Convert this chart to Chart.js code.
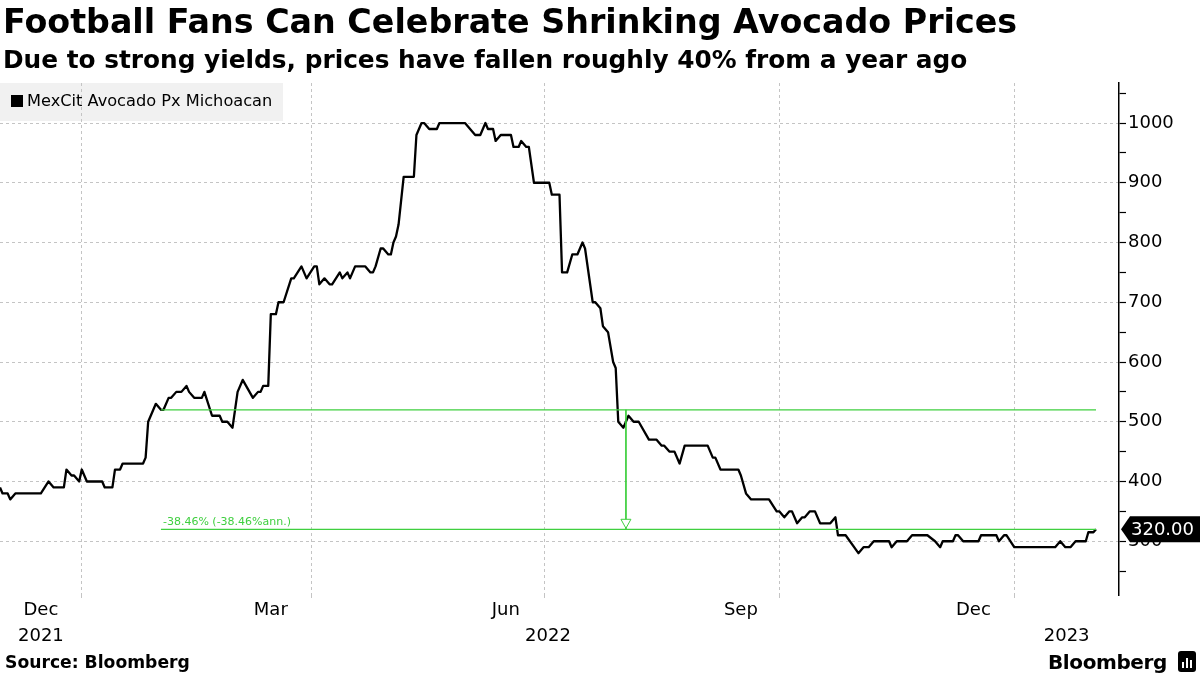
<!DOCTYPE html>
<html>
<head>
<meta charset="utf-8">
<script src="https://cdn.jsdelivr.net/npm/chart.js@4.4.1/dist/chart.umd.min.js"></script>
<style>
  html, body { margin:0; padding:0; background:#fff; width:1200px; height:675px; overflow:hidden; }
  body { font-family: 'DejaVu Sans', sans-serif; color:#000; }
  #wrap { position:relative; width:1200px; height:675px; }
  #legend { position:absolute; left:0; top:83px; width:283px; height:38px; background:#f1f1f1; z-index:0; }
  #chart { position:absolute; left:0; top:0; z-index:1; }
  .txt { position:absolute; z-index:2; white-space:nowrap; }
  #title { left:3px; top:2px; font-size:33.3px; font-weight:bold; line-height:40px; }
  #subtitle { left:3px; top:44px; font-size:24.8px; font-weight:bold; line-height:32px; }
  #legtxt { left:11px; top:89px; font-size:16.2px; line-height:24px; z-index:2; }
  #legtxt span { display:inline-block; width:12px; height:12px; background:#000; margin-right:4px; vertical-align:-1px; }
  #source { left:5px; top:650px; font-size:17.2px; font-weight:bold; line-height:24px; }
  #brand { left:1048px; top:648px; font-size:20px; font-weight:bold; line-height:28px; letter-spacing:-0.4px; }
  #icon { position:absolute; left:1178px; top:651px; width:18px; height:21px; background:#000; border-radius:3px; z-index:2; }
  #icon i { position:absolute; bottom:4px; width:2px; background:#fff; }
</style>
</head>
<body>
<div id="wrap">
  <div id="legend"></div>
  <canvas id="chart" width="1200" height="675"></canvas>
  <div class="txt" id="title">Football Fans Can Celebrate Shrinking Avocado Prices</div>
  <div class="txt" id="subtitle">Due to strong yields, prices have fallen roughly 40% from a year ago</div>
  <div class="txt" id="legtxt"><span></span>MexCit Avocado Px Michoacan</div>
  <div class="txt" id="source">Source: Bloomberg</div>
  <div class="txt" id="brand">Bloomberg</div>
  <div id="icon"><i style="left:4px;height:6px"></i><i style="left:8px;height:10px"></i><i style="left:12px;height:8px"></i></div>
</div>
<script>
// ---------------- DATA ----------------
const seriesName = 'MexCit Avocado Px Michoacan';
const dates = [
 '2021-11-30','2021-12-01','2021-12-03','2021-12-04','2021-12-06','2021-12-16','2021-12-19','2021-12-21','2021-12-25','2021-12-26',
 '2021-12-28','2021-12-29','2021-12-31','2022-01-01','2022-01-03','2022-01-09','2022-01-10','2022-01-13','2022-01-14','2022-01-16',
 '2022-01-17','2022-01-25','2022-01-26','2022-01-27','2022-01-29','2022-01-30','2022-02-01','2022-02-02','2022-02-04','2022-02-05',
 '2022-02-07','2022-02-09','2022-02-11','2022-02-12','2022-02-14','2022-02-17','2022-02-18','2022-02-21','2022-02-24','2022-02-25',
 '2022-02-27','2022-03-01','2022-03-02','2022-03-03','2022-03-05','2022-03-09','2022-03-11','2022-03-12','2022-03-13','2022-03-15',
 '2022-03-16','2022-03-18','2022-03-19','2022-03-21','2022-03-24','2022-03-25','2022-03-28','2022-03-30','2022-04-02','2022-04-03',
 '2022-04-04','2022-04-06','2022-04-08','2022-04-09','2022-04-12','2022-04-13','2022-04-15','2022-04-16','2022-04-18','2022-04-22',
 '2022-04-24','2022-04-25','2022-04-26','2022-04-28','2022-04-29','2022-05-01','2022-05-02','2022-05-03','2022-05-04','2022-05-05',
 '2022-05-07','2022-05-11','2022-05-12','2022-05-14','2022-05-15','2022-05-17','2022-05-20','2022-05-21','2022-05-31','2022-06-04',
 '2022-06-06','2022-06-08','2022-06-09','2022-06-11','2022-06-12','2022-06-14','2022-06-18','2022-06-19','2022-06-21','2022-06-22',
 '2022-06-24','2022-06-25','2022-06-27','2022-07-03','2022-07-04','2022-07-07','2022-07-08','2022-07-10','2022-07-12','2022-07-14',
 '2022-07-16','2022-07-17','2022-07-20','2022-07-21','2022-07-23','2022-07-24','2022-07-26','2022-07-28','2022-07-29','2022-07-30',
 '2022-08-01','2022-08-03','2022-08-05','2022-08-07','2022-08-11','2022-08-14','2022-08-16','2022-08-17','2022-08-19','2022-08-21',
 '2022-08-23','2022-08-25','2022-09-03','2022-09-05','2022-09-06','2022-09-08','2022-09-15','2022-09-16','2022-09-18','2022-09-20',
 '2022-09-27','2022-09-30','2022-10-01','2022-10-03','2022-10-05','2022-10-06','2022-10-08','2022-10-10','2022-10-11','2022-10-13',
 '2022-10-15','2022-10-17','2022-10-21','2022-10-23','2022-10-24','2022-10-27','2022-11-01','2022-11-03','2022-11-05','2022-11-07',
 '2022-11-13','2022-11-14','2022-11-16','2022-11-20','2022-11-22','2022-11-28','2022-12-01','2022-12-03','2022-12-04','2022-12-08',
 '2022-12-09','2022-12-10','2022-12-12','2022-12-18','2022-12-19','2022-12-25','2022-12-26','2022-12-28','2022-12-29','2023-01-01',
 '2023-01-17','2023-01-19','2023-01-21','2023-01-23','2023-01-25','2023-01-29','2023-01-30','2023-02-01','2023-02-02'
];
const prices = [
 390,380,380,370,380,380,400,390,390,420,
 410,410,400,420,400,400,390,390,420,420,
 430,430,440,500,520,530,520,520,540,540,
 550,550,560,550,540,540,550,510,510,500,
 500,490,520,550,570,540,550,550,560,560,
 680,680,700,700,740,740,760,740,760,760,
 730,740,730,730,750,740,750,740,760,760,
 750,750,760,790,790,780,780,800,810,830,
 910,910,980,1000,1000,990,990,1000,1000,980,
 980,1000,990,990,970,980,980,960,960,970,
 960,960,900,900,880,880,750,750,780,780,
 800,790,700,700,690,660,650,600,590,500,
 490,510,500,500,470,470,460,460,450,450,
 430,460,460,440,440,420,420,410,380,370,
 370,350,350,340,350,350,330,340,340,350,
 350,330,330,340,310,310,280,290,290,300,
 300,290,300,300,310,310,300,290,300,300,
 310,310,300,300,310,310,300,310,310,290,
 290,300,290,290,300,300,315,315,320
];
// x-axis: quarter gridlines, month labels, years
const gridDates   = ['2022-01-01','2022-04-01','2022-07-01','2022-10-01','2023-01-01'];
const monthDates  = ['2021-12-16','2022-03-16','2022-06-16','2022-09-16','2022-12-16'];
const monthLabels = ['Dec','Mar','Jun','Sep','Dec'];
const years       = [2021, 2022, 2023];
const xRange      = ['2021-11-30','2023-02-11'];
// y-axis
const yRange      = [210, 1067];
const yTicks      = [250,300,350,400,450,500,550,600,650,700,750,800,850,900,950,1000,1050];
// annotation (year-over-year change)
const annStart = '2022-02-01', annEnd = '2023-02-02', annArrow = '2022-08-02';
const annFrom = 520, annTo = 320;
const annLabel = '-38.46% (-38.46%ann.)';
const lastLabel = '320.00';

// ---------------- HELPERS ----------------
function dayIndex(s){ const [y,m,d] = s.split('-').map(Number); return (Date.UTC(y,m-1,d) - Date.UTC(2022,0,1))/864e5; }
const GREEN = '#3fcf3f';
const GRID = '#c4c4c4';
const FONT = "'DejaVu Sans', sans-serif";
Chart.defaults.font.family = FONT;
Chart.defaults.color = '#000';

const xMin = dayIndex(xRange[0]), xMax = dayIndex(xRange[1]);
const xTicks = [];
gridDates.forEach(d => xTicks.push({value: dayIndex(d), lbl: '', isGrid: true}));
monthDates.forEach((d,i) => xTicks.push({value: dayIndex(d), lbl: monthLabels[i], isGrid: false}));
years.forEach(y => {
  const a = Math.max(xMin, dayIndex(y + '-01-01')), b = Math.min(xMax, dayIndex((y+1) + '-01-01'));
  const mid = (a+b)/2;
  const near = xTicks.find(t => !t.isGrid && Math.abs(t.value - mid) < 8);
  if (near) { near.lbl = [near.lbl, String(y)]; }
  else xTicks.push({value: mid, lbl: ['', String(y)], isGrid: false});
});
xTicks.forEach(t => { if (typeof t.lbl === 'string' && t.lbl !== '') t.lbl = [t.lbl, '']; });
xTicks.sort((a,b) => a.value - b.value);

const mainData = dates.map((d,i) => ({x: dayIndex(d), y: prices[i]}));

const overlay = {
  id: 'overlay',
  afterDatasetsDraw(chart) {
    const {ctx, scales:{x, y}} = chart;
    const ax = x.getPixelForValue(dayIndex(annArrow));
    const ay = y.getPixelForValue(annTo);
    ctx.save();
    ctx.beginPath();
    ctx.moveTo(ax, ay - 1);
    ctx.lineTo(ax - 5, ay - 10);
    ctx.lineTo(ax + 5, ay - 10);
    ctx.closePath();
    ctx.fillStyle = '#fff'; ctx.fill();
    ctx.strokeStyle = GREEN; ctx.lineWidth = 1; ctx.stroke();
    ctx.fillStyle = GREEN;
    ctx.font = "11px " + FONT;
    ctx.textAlign = 'left'; ctx.textBaseline = 'alphabetic';
    ctx.fillText(annLabel, x.getPixelForValue(dayIndex(annStart)) + 2, ay - 4);
    ctx.restore();
  },
  afterDraw(chart) {
    const {ctx, scales:{y}, chartArea} = chart;
    const py = y.getPixelForValue(prices[prices.length-1]);
    const tip = chartArea.right + 2;
    ctx.save();
    ctx.fillStyle = '#000';
    ctx.beginPath();
    ctx.moveTo(tip, py);
    ctx.lineTo(tip + 9, py - 13);
    ctx.lineTo(1200, py - 13);
    ctx.lineTo(1200, py + 13);
    ctx.lineTo(tip + 9, py + 13);
    ctx.closePath();
    ctx.fill();
    ctx.fillStyle = '#fff';
    ctx.font = "18px " + FONT;
    ctx.textAlign = 'left'; ctx.textBaseline = 'middle';
    ctx.fillText(lastLabel, tip + 10, py + 1);
    ctx.restore();
  }
};

new Chart(document.getElementById('chart'), {
  type: 'line',
  data: {
    datasets: [
      { label: 'yoy from', data: [{x: dayIndex(annStart), y: annFrom}, {x: dayIndex(annEnd), y: annFrom}],
        borderColor: GREEN, borderWidth: 1.2, pointRadius: 0, order: 1 },
      { label: 'yoy to', data: [{x: dayIndex(annStart), y: annTo}, {x: dayIndex(annEnd), y: annTo}],
        borderColor: GREEN, borderWidth: 1.2, pointRadius: 0, order: 1 },
      { label: 'yoy arrow', data: [{x: dayIndex(annArrow), y: annFrom}, {x: dayIndex(annArrow), y: annTo}],
        borderColor: GREEN, borderWidth: 1, pointRadius: 0, order: 1 },
      { label: seriesName, data: mainData, borderColor: '#000', borderWidth: 2.3, pointRadius: 0,
        tension: 0, order: 2, borderJoinStyle: 'round' }
    ]
  },
  options: {
    responsive: false,
    animation: false,
    devicePixelRatio: 1,
    layout: { padding: { top: 83, left: 0, right: 0, bottom: 0 } },
    plugins: { legend: { display: false }, tooltip: { enabled: false } },
    scales: {
      x: {
        type: 'linear', min: xMin, max: xMax,
        afterBuildTicks(scale) { scale.ticks = xTicks.map(t => ({...t})); },
        afterFit(scale) { scale.height = 80; },
        grid: {
          color: c => (c.tick && c.tick.isGrid) ? GRID : 'rgba(0,0,0,0)',
          tickColor: c => (c.tick && c.tick.isGrid) ? GRID : 'rgba(0,0,0,0)',
          tickLength: 3, lineWidth: 1
        },
        border: { display: false, dash: [3,3] },
        ticks: {
          autoSkip: false, maxRotation: 0, minRotation: 0, padding: 0,
          font: { size: 18, lineHeight: 1.42 }, color: '#000',
          callback: (v, i, ticks) => ticks[i].lbl
        }
      },
      y: {
        type: 'linear', position: 'right', min: yRange[0], max: yRange[1],
        afterBuildTicks(scale) { scale.ticks = yTicks.map(v => ({value: v})); },
        afterFit(scale) { scale.width = 81; },
        grid: {
          color: c => (c.tick && c.tick.value % 100 === 0) ? GRID : 'rgba(0,0,0,0)',
          tickColor: '#000', tickLength: 7, lineWidth: 1, tickWidth: 1.2
        },
        border: { display: true, color: '#000', width: 1.5, dash: [3,3] },
        ticks: {
          padding: 2, font: { size: 18 }, color: '#000',
          callback: v => (v % 100 === 0) ? String(v) : ''
        }
      }
    }
  },
  plugins: [overlay]
});
</script>
</body>
</html>
